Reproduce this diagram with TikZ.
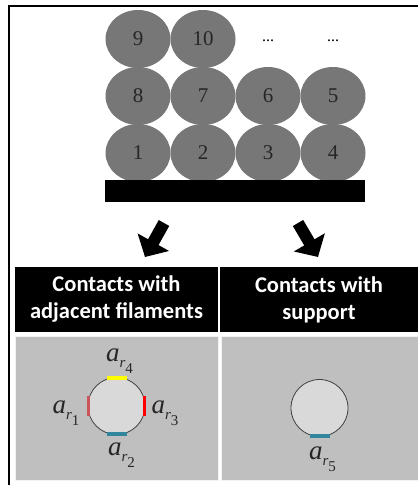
\documentclass[tikz,border=0pt]{standalone}
\usepackage{fontspec}
\setmainfont{Liberation Serif}
\newfontfamily\headfont{Carlito}
\usetikzlibrary{positioning,shapes.geometric,arrows.meta}

\definecolor{filgray}{HTML}{777777}
\definecolor{cellgray}{HTML}{BFBFBF}
\definecolor{discgray}{HTML}{D9D9D9}
\definecolor{contactblue}{HTML}{31859C}
\definecolor{contactrose}{HTML}{C9545A}
\definecolor{contactred}{HTML}{FF0000}
\definecolor{contactyellow}{HTML}{FFFF00}

\newcommand{\contactarea}[1]{\textit{a}\raisebox{-6pt}{\fontsize{15}{15}\selectfont\textit{r}\raisebox{-6pt}{#1}}}

\tikzset{
	stackpicture/.style = {
		x = 1pt,
		y = -1pt,
		blockarrow/.style = {
			draw,
			line width = 12pt,
			-{Triangle[width = 35pt, length = 17pt]},
		}
	},
	filament/.style = {
		ellipse,
		fill = filgray,
		minimum width = 65pt,
		minimum height = 58pt,
		inner sep = 0pt,
		outer sep = 0pt,
		text = black!85,
		font = \fontsize{21}{21}\selectfont
	},
	morefil/.style = {
		minimum width = 65pt,
		minimum height = 58pt,
		inner sep = 0pt,
		font = \fontsize{16}{16}\selectfont
	},
	headcell/.style = {
		fill = black,
		text = white,
		align = center,
		minimum height = 65pt,
		inner sep = 0pt,
		font = \headfont\bfseries\fontsize{22.5}{27}\selectfont
	},
	bodycell/.style = {
		fill = cellgray,
		draw = white!80!cellgray,
		line width = 1pt,
		minimum height = 144pt,
		inner sep = 0pt
	},
	disc/.style = {
		circle,
		fill = discgray,
		draw = black!75,
		line width = 0.8pt,
		minimum size = 57pt,
		inner sep = 0pt
	},
	contact/.style = {
		line width = 3.5pt
	},
	arealabel/.style = {
		inner sep = 2pt,
		text = black!85,
		font = \fontsize{27}{27}\selectfont
	}
}

\begin{document}
\begin{tikzpicture}[stackpicture]
	\useasboundingbox (0,0) rectangle (418,485);
	\draw[line width = 2.5pt] (9,485) -- (9,6) -- (418,6);

	% filaments on the support
	\node[filament] (f1) at (138,153) {1};
	\node[filament, right = 0pt of f1] (f2) {2};
	\node[filament, right = 0pt of f2] (f3) {3};
	\node[filament, right = 0pt of f3] (f4) {4};
	\node[filament, above = -1pt of f4] (f5) {5};
	\node[filament, above = -1pt of f3] (f6) {6};
	\node[filament, above = -1pt of f2] (f7) {7};
	\node[filament, above = -1pt of f1] (f8) {8};
	\node[filament, above = -1pt of f8] (f9) {9};
	\node[filament, above = -1pt of f7] (f10) {10};
	\node[morefil, above = -1pt of f6, yshift = -2pt] (m6) {...};
	\node[morefil, above = -1pt of f5, yshift = -2pt] (m5) {...};

	\node[fill = black, minimum width = 260pt, minimum height = 22pt, inner sep = 0pt] (bar) at (235,191) {};

	\coordinate (la-s) at (164,223);
	\coordinate (la-e) at (145,257);
	\coordinate (ra-s) at (298,223);
	\coordinate (ra-e) at (318,257);
	\path[blockarrow] (la-s) -- (la-e);
	\path[blockarrow] (ra-s) -- (ra-e);

	% table
	\node[headcell, minimum width = 203pt] (h1) at (116.5,299.5) {Contacts with\\adjacent filaments};
	\node[headcell, minimum width = 198pt] (h2) at (319,299.5) {Contacts with\\support};
	\node[bodycell, minimum width = 203pt] (c1) at (116.5,408) {};
	\node[bodycell, minimum width = 197pt] (c2) at (319.5,408) {};

	\node[disc] (d1) at ([yshift = 2pt]c1.center) {};
	\node[disc] (d2) at (c2.center) {};

	\begin{scope}[every path/.style = contact]
		\draw[contactyellow] ([xshift = -10pt, yshift = -1pt]d1.north) -- ([xshift = 10pt, yshift = -1pt]d1.north);
		\draw[contactblue] ([xshift = -10pt, yshift = 1pt]d1.south) -- ([xshift = 10pt, yshift = 1pt]d1.south);
		\draw[contactrose] ([xshift = 1pt, yshift = 10pt]d1.west) -- ([xshift = 1pt, yshift = -10pt]d1.west);
		\draw[contactred] ([xshift = -1pt, yshift = 10pt]d1.east) -- ([xshift = -1pt, yshift = -10pt]d1.east);
		\draw[contactblue] ([xshift = -10pt, yshift = 1pt]d2.south) -- ([xshift = 10pt, yshift = 1pt]d2.south);
	\end{scope}

	\node[arealabel, above = 1pt of d1, xshift = 3pt] (r4) {\contactarea{4}};
	\node[arealabel, left = 6pt of d1, yshift = -7pt] (r1) {\contactarea{1}};
	\node[arealabel, right = 4pt of d1, yshift = -7pt] (r3) {\contactarea{3}};
	\node[arealabel, below = 6pt of d1, xshift = 5pt] (r2) {\contactarea{2}};
	\node[arealabel, below = 8pt of d2, xshift = 3pt] (r5) {\contactarea{5}};
\end{tikzpicture}
\end{document}
